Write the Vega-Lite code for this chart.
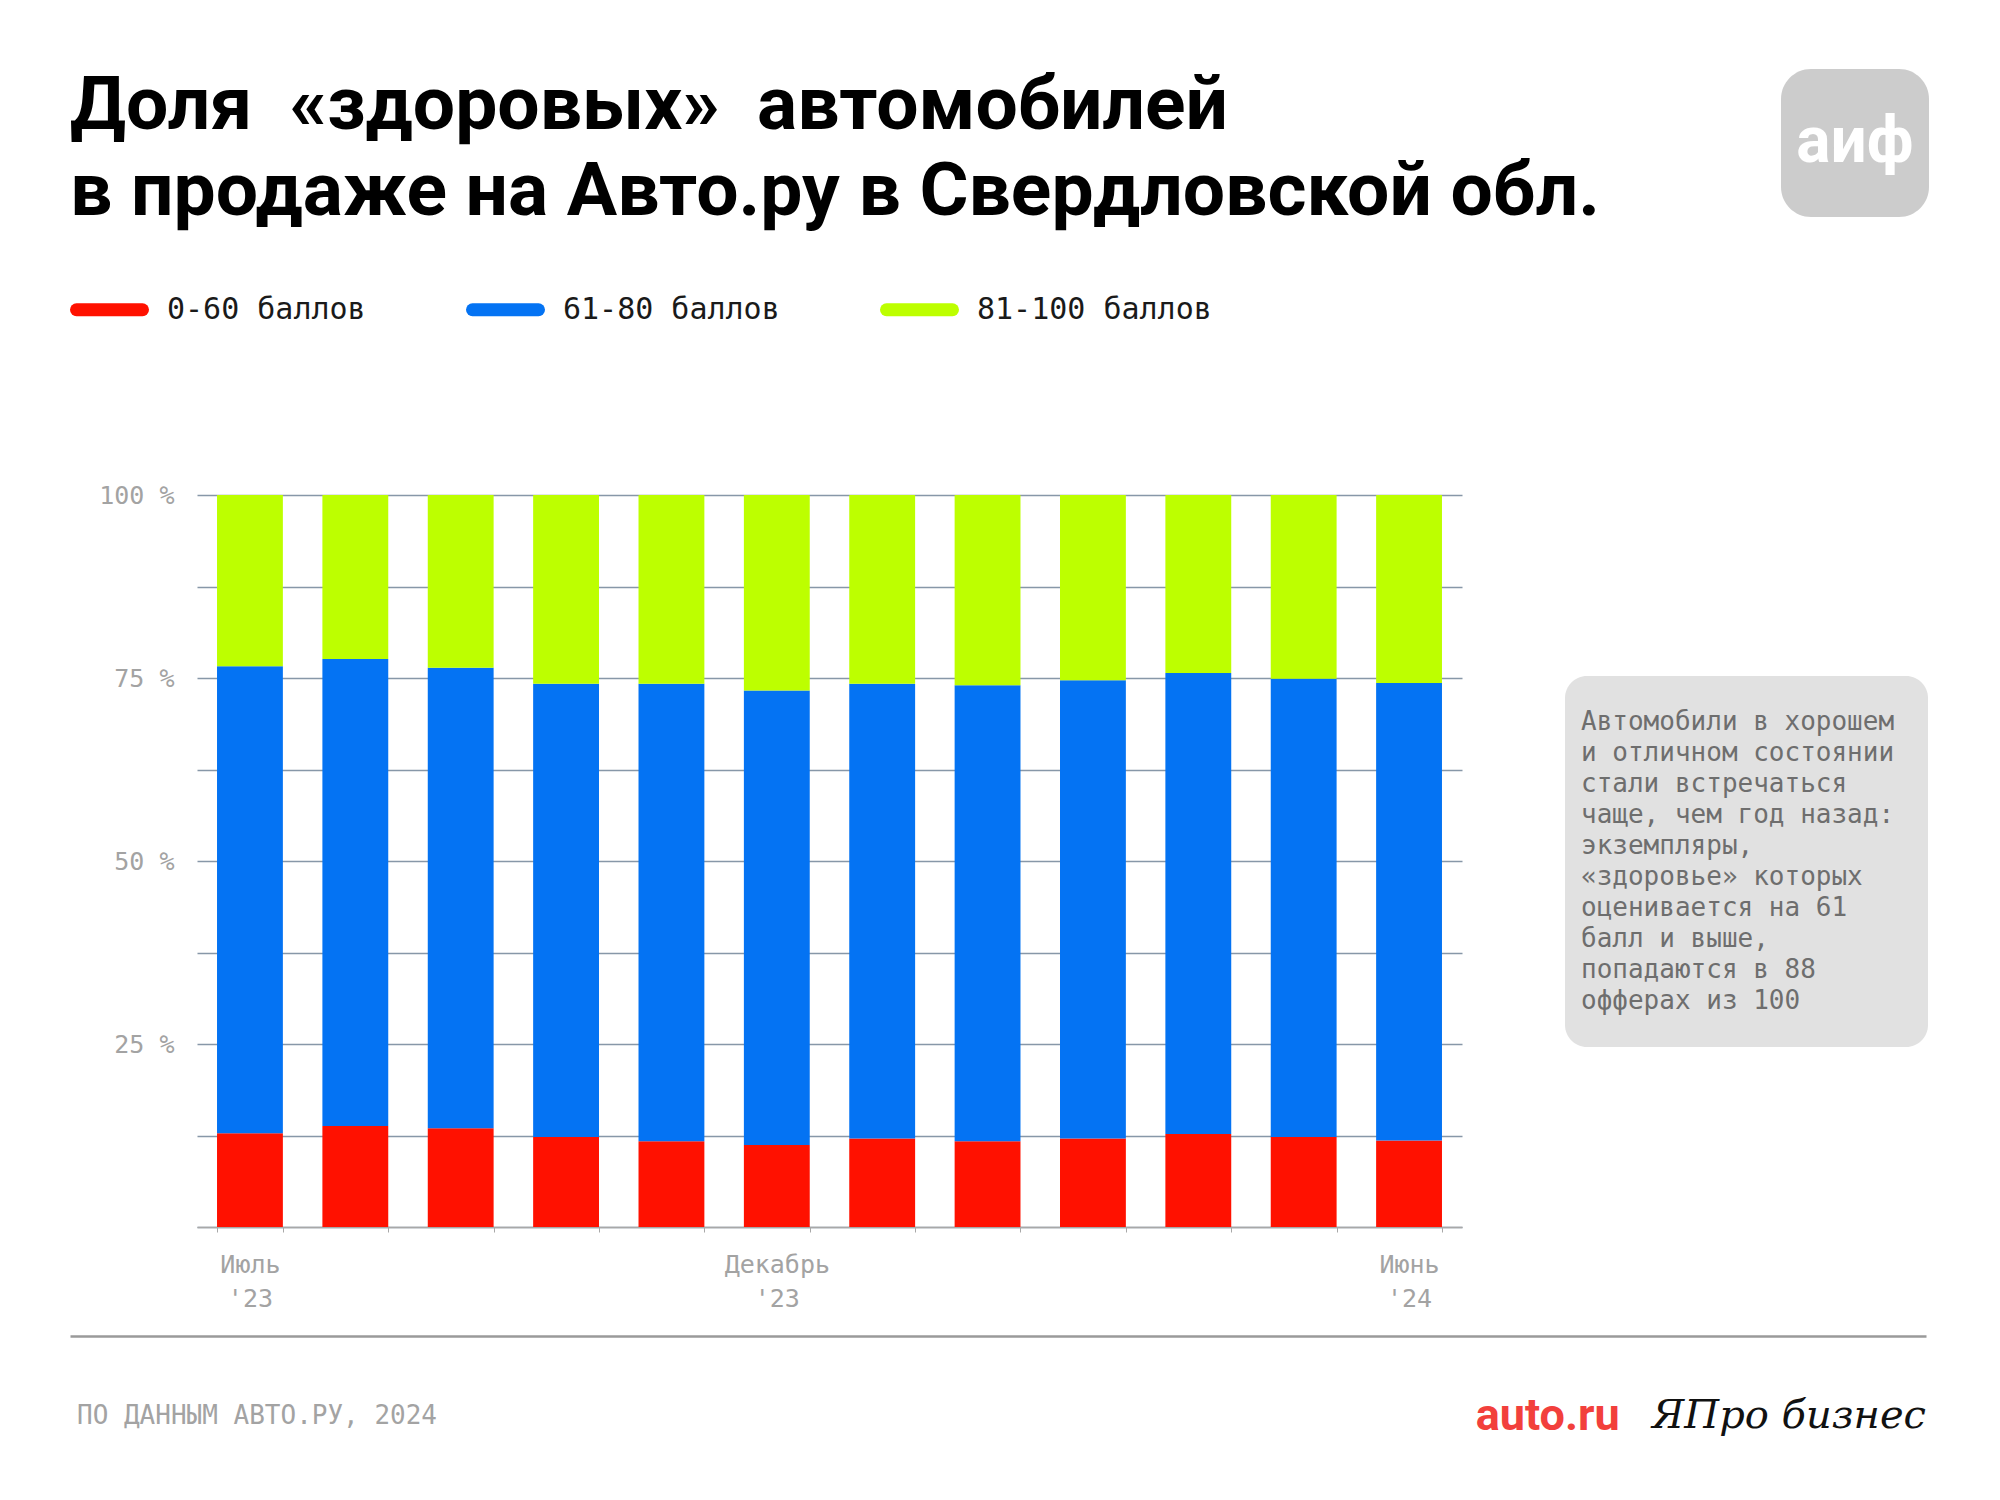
{
  "$schema": "https://vega.github.io/schema/vega-lite/v6.json",
  "background": "white",
  "padding": {"left": 70, "top": 68, "right": 0, "bottom": 0},
  "config": {"view": {"stroke": null}, "font": "DejaVu Sans Mono"},
  "columns": 1,
  "align": "none",
  "spacing": 25,
  "concat": [
    {
      "spacing": 20,
      "hconcat": [
        {
          "width": 1691,
          "height": 180,
          "data": {
            "values": [
              {"line": "Доля\u00a0 «здоровых»\u00a0 автомобилей"},
              {"line": "в продаже на Авто.ру в Свердловской обл."}
            ]
          },
          "mark": {"type": "text", "align": "left", "baseline": "alphabetic", "dy": 13, "font": "Roboto", "fontWeight": "bold", "fontSize": 75, "color": "#000000"},
          "encoding": {
            "x": {"datum": 0, "type": "quantitative", "scale": {"domain": [0, 1]}, "axis": null},
            "y": {"field": "line", "type": "ordinal", "sort": null, "scale": {"type": "point", "padding": 0.5465}, "axis": null},
            "text": {"field": "line"}
          }
        },
        {
          "width": 148,
          "height": 148,
          "view": {"fill": "#cccccc", "cornerRadius": 30, "stroke": null},
          "data": {"values": [{"logo": "аиф"}]},
          "mark": {"type": "text", "font": "Roboto", "fontWeight": "bold", "fontSize": 64, "color": "#ffffff", "baseline": "middle", "align": "center"},
          "encoding": {"text": {"field": "logo"}}
        }
      ]
    },
    {"width": 1, "height": 184, "data": {"values": []}, "mark": "point"},
    {
      "spacing": 103,
      "hconcat": [
        {
          "spacing": 0,
          "hconcat": [
            {"width": 28, "height": 1, "data": {"values": []}, "mark": "point"},
            {
              "width": 1265,
              "height": 732,
              "data": {
                "values": [
                  {"month": "Июль '23", "group": "0-60 баллов", "share": 12.8},
                  {"month": "Июль '23", "group": "61-80 баллов", "share": 63.8},
                  {"month": "Июль '23", "group": "81-100 баллов", "share": 23.4},
                  {"month": "Август '23", "group": "0-60 баллов", "share": 13.8},
                  {"month": "Август '23", "group": "61-80 баллов", "share": 63.8},
                  {"month": "Август '23", "group": "81-100 баллов", "share": 22.4},
                  {"month": "Сентябрь '23", "group": "0-60 баллов", "share": 13.5},
                  {"month": "Сентябрь '23", "group": "61-80 баллов", "share": 62.9},
                  {"month": "Сентябрь '23", "group": "81-100 баллов", "share": 23.6},
                  {"month": "Октябрь '23", "group": "0-60 баллов", "share": 12.3},
                  {"month": "Октябрь '23", "group": "61-80 баллов", "share": 61.9},
                  {"month": "Октябрь '23", "group": "81-100 баллов", "share": 25.8},
                  {"month": "Ноябрь '23", "group": "0-60 баллов", "share": 11.7},
                  {"month": "Ноябрь '23", "group": "61-80 баллов", "share": 62.5},
                  {"month": "Ноябрь '23", "group": "81-100 баллов", "share": 25.8},
                  {"month": "Декабрь '23", "group": "0-60 баллов", "share": 11.2},
                  {"month": "Декабрь '23", "group": "61-80 баллов", "share": 62.1},
                  {"month": "Декабрь '23", "group": "81-100 баллов", "share": 26.7},
                  {"month": "Январь '24", "group": "0-60 баллов", "share": 12.1},
                  {"month": "Январь '24", "group": "61-80 баллов", "share": 62.1},
                  {"month": "Январь '24", "group": "81-100 баллов", "share": 25.8},
                  {"month": "Февраль '24", "group": "0-60 баллов", "share": 11.7},
                  {"month": "Февраль '24", "group": "61-80 баллов", "share": 62.3},
                  {"month": "Февраль '24", "group": "81-100 баллов", "share": 26.0},
                  {"month": "Март '24", "group": "0-60 баллов", "share": 12.1},
                  {"month": "Март '24", "group": "61-80 баллов", "share": 62.6},
                  {"month": "Март '24", "group": "81-100 баллов", "share": 25.3},
                  {"month": "Апрель '24", "group": "0-60 баллов", "share": 12.7},
                  {"month": "Апрель '24", "group": "61-80 баллов", "share": 63.0},
                  {"month": "Апрель '24", "group": "81-100 баллов", "share": 24.3},
                  {"month": "Май '24", "group": "0-60 баллов", "share": 12.3},
                  {"month": "Май '24", "group": "61-80 баллов", "share": 62.6},
                  {"month": "Май '24", "group": "81-100 баллов", "share": 25.1},
                  {"month": "Июнь '24", "group": "0-60 баллов", "share": 11.8},
                  {"month": "Июнь '24", "group": "61-80 баллов", "share": 62.5},
                  {"month": "Июнь '24", "group": "81-100 баллов", "share": 25.7}
                ]
              },
              "mark": {"type": "bar"},
              "encoding": {
                "x": {
                  "field": "month",
                  "type": "ordinal",
                  "sort": null,
                  "scale": {"paddingInner": 0.375, "paddingOuter": 0.19},
                  "axis": {
                    "title": null,
                    "labelAngle": 0,
                    "tickBand": "extent",
                    "ticks": true,
                    "tickSize": 5,
                    "tickColor": "#a8a8a8",
                    "domainColor": "#a8a8a8",
                    "domainWidth": 1.5,
                    "grid": false,
                    "labelOverlap": false,
                    "labelExpr": "indexof([\"Июль '23\", \"Декабрь '23\", \"Июнь '24\"], datum.value) >= 0 ? split(datum.value, ' ') : ''",
                    "labelFont": "DejaVu Sans Mono",
                    "labelFontSize": 25,
                    "labelColor": "#a3a3a3",
                    "labelPadding": 20,
                    "labelLineHeight": 34
                  }
                },
                "y": {
                  "field": "share",
                  "type": "quantitative",
                  "stack": "zero",
                  "scale": {"domain": [0, 100], "nice": false},
                  "axis": {
                    "title": null,
                    "values": [0, 12.5, 25, 37.5, 50, 62.5, 75, 87.5, 100],
                    "labelExpr": "datum.value > 0 && datum.value % 25 == 0 ? datum.value + ' %' : ''",
                    "domain": false,
                    "ticks": false,
                    "grid": true,
                    "gridColor": "#8797a8",
                    "gridWidth": 1.3,
                    "labelFont": "DejaVu Sans Mono",
                    "labelFontSize": 25,
                    "labelColor": "#a3a3a3",
                    "labelPadding": 23
                  }
                },
                "color": {
                  "field": "group",
                  "type": "nominal",
                  "scale": {
                    "domain": ["0-60 баллов", "61-80 баллов", "81-100 баллов"],
                    "range": ["#ff1100", "#0473f3", "#bdff00"]
                  },
                  "legend": {
                    "orient": "none",
                    "legendX": 0,
                    "legendY": 201,
                    "direction": "horizontal",
                    "title": null,
                    "symbolType": "stroke",
                    "symbolStrokeWidth": 13,
                    "symbolSize": 4356,
                    "labelFont": "DejaVu Sans Mono",
                    "labelFontSize": 30,
                    "labelColor": "#1a1a1a",
                    "labelOffset": 18,
                    "labelLimit": 500,
                    "columnPadding": 80,
                    "encode": {
                      "symbols": {
                        "update": {
                          "strokeCap": {"value": "round"},
                          "stroke": {"scale": "color", "field": "value"}
                        }
                      }
                    }
                  }
                },
                "order": {"field": "group", "sort": "ascending"}
              }
            }
          ]
        },
        {
          "spacing": 0,
          "vconcat": [
            {"width": 363, "height": 181, "data": {"values": []}, "mark": "point"},
            {
              "width": 363,
              "height": 371,
              "view": {"fill": "#e1e1e1", "cornerRadius": 22, "stroke": null},
              "data": {
                "values": [
                  {"t": "Автомобили в хорошем"},
                  {"t": "и отличном состоянии"},
                  {"t": "стали встречаться"},
                  {"t": "чаще, чем год назад:"},
                  {"t": "экземпляры,"},
                  {"t": "«здоровье» которых"},
                  {"t": "оценивается на 61"},
                  {"t": "балл и выше,"},
                  {"t": "попадаются в 88"},
                  {"t": "офферах из 100"}
                ]
              },
              "mark": {"type": "text", "align": "left", "baseline": "middle", "dx": 16, "font": "DejaVu Sans Mono", "fontSize": 26, "color": "#6e6e6e"},
              "encoding": {
                "x": {"datum": 0, "type": "quantitative", "scale": {"domain": [0, 1]}, "axis": null},
                "y": {"field": "t", "type": "ordinal", "sort": null, "scale": {"type": "band", "paddingInner": 0, "paddingOuter": 0.985}, "axis": null},
                "text": {"field": "t"}
              }
            }
          ]
        }
      ]
    },
    {
      "width": 1856,
      "height": 160,
      "data": {"values": [{}]},
      "layer": [
        {
          "mark": {"type": "text", "align": "left", "baseline": "middle", "dx": 7, "font": "DejaVu Sans Mono", "fontSize": 26, "color": "#a3a3a3"},
          "encoding": {
            "x": {
              "datum": 0,
              "type": "quantitative",
              "scale": {"domain": [0, 1]},
              "axis": {"orient": "top", "domain": true, "domainColor": "#9a9a9a", "domainWidth": 2.5, "ticks": false, "labels": false, "grid": false, "title": null}
            },
            "text": {"value": "ПО ДАННЫМ АВТО.РУ, 2024"}
          }
        },
        {
          "mark": {"type": "text", "align": "right", "baseline": "middle", "font": "Roboto", "fontWeight": "bold", "fontSize": 45, "color": "#f2403c"},
          "encoding": {
            "x": {"datum": 0.835, "type": "quantitative"},
            "text": {"value": "auto.ru"}
          }
        },
        {
          "mark": {"type": "text", "align": "right", "baseline": "middle", "font": "DejaVu Serif", "fontStyle": "italic", "fontSize": 40, "color": "#111111"},
          "encoding": {
            "x": {"datum": 1, "type": "quantitative"},
            "text": {"value": "ЯПро бизнес"}
          }
        }
      ]
    }
  ]
}
